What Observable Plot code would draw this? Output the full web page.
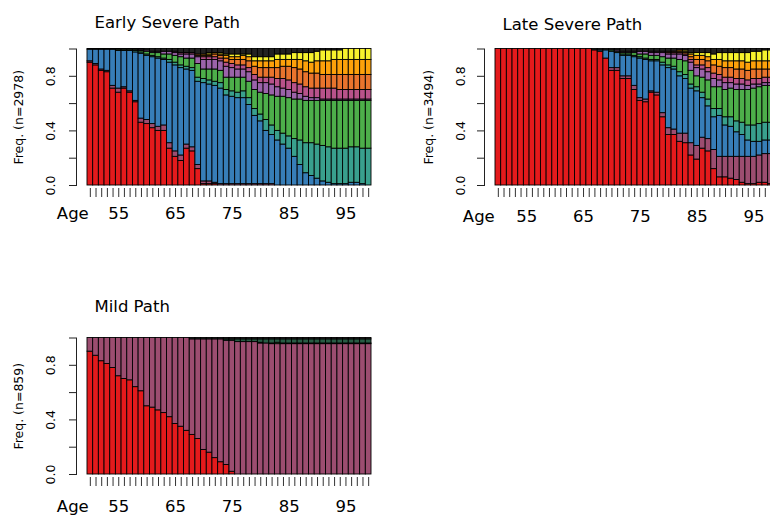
<!DOCTYPE html>
<html>
<head>
<meta charset="utf-8">
<script src="https://cdn.jsdelivr.net/npm/d3@7"></script>
<script src="https://cdn.jsdelivr.net/npm/@observablehq/plot@0.6"></script>
<style>
  html, body { margin: 0; padding: 0; background: #fff; }
  #wrap { position: relative; width: 770px; height: 517px; overflow: hidden; background: #fff; }
  .panel { position: absolute; width: 385px; height: 228px; }
  .panel svg { max-width: none !important; width: 385px; height: 228px; }
</style>
</head>
<body>
<div id="wrap"></div>
<script>
// ---- categories ----
const ages = d3.range(50, 100);
const states = ["S1","S2","S3","S4","S5","S6","S7","S8","S9","S10","S11","S12"];
const stateColors = ["#E41A1C","#9C4D70","#377EB8","#39A08D","#4DAF4A","#275C44","#9B63AA","#B8528A","#E9742D","#FDA10A","#F7F22D","#222222"];
const yTicks = [0, 0.2, 0.4, 0.6, 0.8, 1.0];
const yTickLabels = [0, 0.4, 0.8];
const xTickLabels = [55, 65, 75, 85, 95];
const z5 = [0,0,0,0,0];

// ---- Early Severe Path (percent per age 50..99) ----
const earlyS1 = [90,88,84,83,71, 68,71,68,61,46, 45,42,40,40,27, 21,18,27,25,12, 1,1,1,0,0, ...z5,...z5,...z5,...z5,...z5];
const earlyS2 = [1,1,1,1,2, 3,1,1,1,3, 3,3,3,4,4, 4,4,3,3,3, 2,2,1,1,1, 1,1,1,1,1, 1,1,1,0,0, ...z5,...z5,...z5];
const earlyS3 = [8.5,10.5,14.5,15.5,26.5, 27.5,26.5,29.5,35.5,47.5, 47,49,50,48,59, 63,64,55,56,61, 72,71,71,70,65, 64,63,63,58,50, 46,39,36,33,30, 27,21,15,9,7, 5,3,2,1,1, 1,2,2,1,0];
const earlyS4 = [0,0,0,0,0, 0,0,0,1,1, 1,1,1,1,2, 2,2,2,2,3, 3,3,3,4,4, 4,4,5,5,5, 5,8,7,7,8, 9,13,18,22,24, 25,26,26,26,26, 26,26,26,26,27];
const earlyS5 = [0,0,0,0,0, 1,1,1,1,1, 2,2,3,3,4, 5,6,6,7,10, 7,8,9,9,9, 10,11,10,12,14, 16,19,22,25,27, 28,29,30,31,31, 32,33,34,35,35, 35,34,34,35,35];
const earlyS6 = [...z5,...z5,...z5,...z5,...z5,...z5,...z5,...z5,...z5,...z5];
const earlyS7 = [0,0,0,0,0, 0,0,0,0,1, 1,1,1,2,2, 2,2,3,3,5, 7,7,7,7,8, 7,6,6,7,7, 7,8,8,7,6, 6,5,4,3,2, 2,1,1,1,1, 1,1,1,1,1];
const earlyS8 = [...z5,...z5,...z5, 1,1,1,1,1, 2,2,2,2,3, 3,3,3,3,4, 4,4,5,6,7, 7,7,7,7,7, 7,8,8,8,7, 7,7,7,7,7];
const earlyS9 = [...z5,...z5,...z5, 0,0,0,0,1, 1,1,2,2,3, 3,4,4,5,6, 7,7,7,8,9, 10,11,11,11,11, 11,10,10,10,11, 11,11,11,11,11];
const earlyS10 = [...z5,...z5,...z5,...z5, 1,1,1,1,2, 2,2,3,3,4, 5,5,5,6,5, 5,6,7,8,8, 9,10,10,11,11, 11,11,11,11,11];
const earlyS11 = [...z5,...z5,...z5,...z5, 0,1,0,1,1, 2,2,1,2,3, 3,3,3,4,4, 4,5,5,6,7, 7,8,8,7,7, 8,8,8,8,8];
const earlyS12 = [0.5,0.5,0.5,0.5,0.5, 0.5,0.5,0.5,0.5,0.5, 1,2,2,2,2, 2,3,3,3,4, 4,3,3,3,4, 4,4,4,4,6, 6,6,6,4,4, 4,3,3,3,3, 2,1,1,1,1, 0,0,0,0,0];

// ---- Late Severe Path ----
const lateS1 = [100,100,100,100,100, 100,100,100,100,100, 100,100,100,100,100, 100,100,99,98,93, 84,84,78,78,70, 62,61,68,66,50, 37,37,32,31,22, 19,27,25,12,6, 6,5,4,2,1, 1,2,2,1,1];
const lateS2 = [...z5,...z5,...z5,...z5, 2,2,2,2,3, 2,2,1,2,3, 5,4,6,7,9, 10,8,9,14,15, 15,16,17,19,20, 20,20,21,22,22];
const lateS3 = [...z5,...z5,...z5, 0,0,0,1,6, 12,11,15,15,21, 29,29,22,23,35, 44,44,42,40,40, 40,29,24,24,30, 23,22,18,16,12, 11,10,10,10,9];
const lateS4 = [...z5,...z5,...z5,...z5, 0,0,1,1,1, 1,1,1,1,2, 2,2,3,3,3, 3,4,5,6,5, 6,7,8,9,11, 12,13,13,13,13];
const lateS5 = [...z5,...z5,...z5,...z5, 1,1,1,1,2, 2,3,3,3,4, 5,6,9,10,10, 8,11,14,16,16, 20,21,23,24,26, 27,27,27,27,28];
const lateS6 = [...z5,...z5,...z5,...z5,...z5,...z5,...z5,...z5,...z5,...z5];
const lateS7 = [...z5,...z5,...z5,...z5, 0,1,1,1,1, 2,2,2,2,3, 3,3,4,4,6, 6,6,6,6,5, 5,4,4,4,3, 3,2,2,2,2];
const lateS8 = [...z5,...z5,...z5,...z5,...z5, 0,0,1,1,1, 1,1,1,1,2, 2,3,3,4,4, 4,4,4,4,4, 4,4,4,4,4];
const lateS9 = [...z5,...z5,...z5,...z5,...z5,...z5, 1,1,1,1,2, 4,4,5,6,6, 7,7,7,7,7, 7,7,6,6,6];
const lateS10 = [...z5,...z5,...z5,...z5,...z5,...z5, 0,0,1,1,2, 3,3,3,4,5, 5,5,6,6,6, 6,6,6,6,6];
const lateS11 = [...z5,...z5,...z5,...z5,...z5,...z5, 0,0,0,1,1, 2,2,3,4,5, 6,6,6,6,7, 7,7,8,8,8];
const lateS12 = [...z5,...z5,...z5, 0,0,1,1,1, 1,1,2,2,2, 2,2,2,2,2, 2,2,1,1,3, 3,3,3,4,3, 3,3,3,3,3, 2,2,1,1,1];

// ---- Mild Path ----
const mildS1 = [90,87,83,81,78, 72,70,69,64,61, 50,49,47,45,42, 37,35,32,29,26, 18,16,12,9,7, 2,0,0,0,0, ...z5,...z5,...z5,...z5];
const mildS2 = [10,13,17,19,22, 28,30,31,36,39, 50,51,53,55,58, 63,65,68,70,73, 81,83,87,90,91, 96,97,97,97,97, 96,96,95.5,95.5,95.5, 95.5,95.5,95.5,95.5,95.5, 95.5,95.5,95.5,95.5,95.5, 95.5,95.5,95.5,95.5,95.5];
const mildS5 = [...z5,...z5,...z5,...z5,...z5,...z5, 0.5,0,0.5,1,0.5, 0.5,0.5,0.5,0.5,0.5, 0.5,0.5,0.5,0.5,0.5, 0.5,0.5,0.5,0.5,0.5];
const mildS6 = [...z5,...z5,...z5,...z5, 0,0,0,0,1, 1,2,2,2,2, 2.5,3,3,2.5,3, 3,3,3,3,3, 3,3,3,3,3, 3,3,3,3,3];
const mildS12 = [...z5,...z5,...z5, 0,0,0,1,1, 1,1,1,1,1, 1,1,1,1,1, 1,1,1,1,1, 1,1,1,1,1, 1,1,1,1,1, 1,1,1,1,1];
const none = [...z5,...z5,...z5,...z5,...z5,...z5,...z5,...z5,...z5,...z5];

const panels = [
  {left: 0, top: 0, title: "Early Severe Path", ylab: "Freq. (n=2978)",
   rows: [earlyS1,earlyS2,earlyS3,earlyS4,earlyS5,earlyS6,earlyS7,earlyS8,earlyS9,earlyS10,earlyS11,earlyS12],
   titleDy: -26, labDy: 28, ylabDx: -69, tickLabDx: -37, ageDx: -14.7},
  {left: 408, top: 0, title: "Late Severe Path", ylab: "Freq. (n=3494)",
   rows: [lateS1,lateS2,lateS3,lateS4,lateS5,lateS6,lateS7,lateS8,lateS9,lateS10,lateS11,lateS12],
   titleDy: -24.5, labDy: 31, ylabDx: -67, tickLabDx: -35, ageDx: -16.7},
  {left: 0, top: 289, title: "Mild Path", ylab: "Freq. (n=859)",
   rows: [mildS1,mildS2,none,none,mildS5,mildS6,none,none,none,none,none,mildS12],
   titleDy: -31, labDy: 32, ylabDx: -69, tickLabDx: -37, ageDx: -14.7}
];

function makePanel(p) {
  const data = [];
  ages.forEach((age, i) => {
    states.forEach((s, j) => {
      const v = p.rows[j][i];
      if (v > 0) data.push({age, state: s, value: v / 100});
    });
  });
  return Plot.plot({
    width: 385, height: 228,
    marginLeft: 87, marginRight: 14, marginTop: 48.5, marginBottom: 43,
    style: {fontFamily: "'DejaVu Sans', sans-serif", fontSize: "12px", background: "transparent", color: "#000", overflow: "visible"},
    x: {type: "band", domain: ages, padding: 0},
    y: {domain: [0, 1]},
    color: {domain: states, range: stateColors},
    marks: [
      Plot.barY(data, {x: "age", y: "value", fill: "state", stroke: "#000", strokeWidth: 0.9, inset: 0}),
      Plot.axisY({ticks: yTicks, tickSize: 7, dx: -11, tickFormat: () => "", label: null, stroke: "#222"}),
      Plot.frame({anchor: "left", dx: -11, stroke: "#222"}),
      Plot.text(yTickLabels, {y: d => d, text: d => d.toFixed(1), frameAnchor: "left", dx: p.tickLabDx, rotate: -90, textAnchor: "middle", lineAnchor: "middle", fontSize: 12.5, fill: "#000"}),
      Plot.axisX({ticks: ages, tickSize: 9, dy: 3, tickFormat: () => "", label: null, stroke: "#333"}),
      Plot.text(xTickLabels, {x: d => d, text: d => String(d), frameAnchor: "bottom", dy: p.labDy, textAnchor: "middle", lineAnchor: "middle", fontSize: 16.5, fill: "#000"}),
      Plot.text(["Age"], {frameAnchor: "bottom-left", dx: p.ageDx, dy: p.labDy, textAnchor: "middle", lineAnchor: "middle", fontSize: 16.5, fill: "#000"}),
      Plot.text([p.title], {frameAnchor: "top-left", dx: 7, dy: p.titleDy, textAnchor: "start", lineAnchor: "middle", fontSize: 16.5, fill: "#000"}),
      Plot.text([p.ylab], {frameAnchor: "left", dx: p.ylabDx, rotate: -90, textAnchor: "middle", lineAnchor: "middle", fontSize: 12.5, fill: "#000"})
    ]
  });
}

const wrap = document.getElementById("wrap");
for (const p of panels) {
  const div = document.createElement("div");
  div.className = "panel";
  div.style.left = p.left + "px";
  div.style.top = p.top + "px";
  div.appendChild(makePanel(p));
  wrap.appendChild(div);
}
</script>
</body>
</html>
